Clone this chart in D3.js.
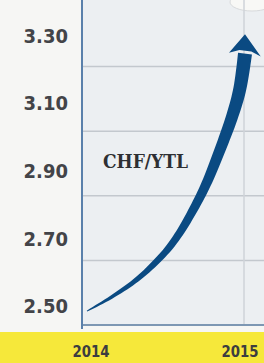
<!DOCTYPE html>
<html>
<head>
<meta charset="utf-8">
<script src="https://cdnjs.cloudflare.com/ajax/libs/d3/7.8.5/d3.min.js"></script>
<style>
  html, body { margin: 0; padding: 0; background: #f6f6f4; }
  svg { display: block; }
</style>
</head>
<body>
<script>
// data
var months = [0, 2, 4, 6, 7, 8, 9, 10, 11, 11.6, 12];
var rate = [2.443, 2.490, 2.548, 2.628, 2.683, 2.752, 2.832, 2.932, 3.043, 3.130, 3.240];
var arrowTip = 3.30;
var yearLabels = ["2014", "2015"];
var yearMonths = [0, 12];
var tickValues = [2.50, 2.70, 2.90, 3.10, 3.30];
var tickLabels = ["2.50", "2.70", "2.90", "3.10", "3.30"];
var gridValues = [2.60, 2.80, 3.00, 3.20];
var seriesName = "CHF/YTL";

var width = 264, height = 363;

var svg = d3.select("body").append("svg")
    .attr("width", width)
    .attr("height", height);

// scales
var x = d3.scaleLinear().domain([0, 12]).range([87, 245]);
var y = d3.scaleLinear().domain([2.40, 3.40]).range([325, 2]);
// the printed tick labels drift a little from the grid, so they get their own scale
var yLab = d3.scaleLinear().domain([2.50, 3.30]).range([306, 35.5]);

// plot background
svg.append("rect")
    .attr("x", 82).attr("y", 0)
    .attr("width", width - 82).attr("height", y(2.40))
    .attr("fill", "#eceff2");

// bright blob top right
svg.append("ellipse")
    .attr("cx", 252).attr("cy", 2)
    .attr("rx", 22).attr("ry", 9)
    .attr("fill", "#f8f8f6")
    .attr("stroke", "#d8dadc");

// yellow strip
svg.append("rect")
    .attr("x", 0).attr("y", 332)
    .attr("width", width).attr("height", height - 332)
    .attr("fill", "#f6e83a");

// gridlines
svg.selectAll(".grid")
    .data(gridValues)
    .enter().append("line")
    .attr("class", "grid")
    .attr("x1", 82).attr("x2", width)
    .attr("y1", function(d) { return y(d); })
    .attr("y2", function(d) { return y(d); })
    .attr("stroke", "#c3c8ce")
    .attr("stroke-width", 1.5);

svg.append("line")
    .attr("x1", x(12) - 1).attr("x2", x(12) - 1)
    .attr("y1", 0).attr("y2", y(2.40))
    .attr("stroke", "#cfd3d8")
    .attr("stroke-width", 1.5);

// axes lines
svg.append("line")
    .attr("x1", 82).attr("x2", width)
    .attr("y1", y(2.40)).attr("y2", y(2.40))
    .attr("stroke", "#7d97b3")
    .attr("stroke-width", 2);

svg.append("line")
    .attr("x1", 82).attr("x2", 82)
    .attr("y1", 0).attr("y2", 329)
    .attr("stroke", "#5a80ab")
    .attr("stroke-width", 2);

// y tick labels
svg.selectAll(".ylab")
    .data(tickValues)
    .enter().append("text")
    .attr("class", "ylab")
    .attr("x", 68)
    .attr("y", function(d) { return yLab(d); })
    .attr("dy", "0.36em")
    .attr("text-anchor", "end")
    .style("font-family", "'DejaVu Sans Condensed', 'DejaVu Sans', sans-serif")
    .style("font-stretch", "condensed")
    .style("font-weight", "bold")
    .style("font-size", "20px")
    .style("fill", "#434448")
    .text(function(d, i) { return tickLabels[i]; });

// year labels
svg.selectAll(".xlab")
    .data(yearLabels)
    .enter().append("text")
    .attr("class", "xlab")
    .attr("x", function(d, i) { return x(yearMonths[i]) + (i == 0 ? 4 : -5); })
    .attr("y", 351)
    .attr("dy", "0.36em")
    .attr("text-anchor", "middle")
    .attr("textLength", 37)
    .attr("lengthAdjust", "spacingAndGlyphs")
    .style("font-family", "'DejaVu Sans Condensed', 'DejaVu Sans', sans-serif")
    .style("font-stretch", "condensed")
    .style("font-weight", "bold")
    .style("font-size", "16px")
    .style("fill", "#3c3d40")
    .text(function(d) { return d; });

// series name
svg.append("text")
    .attr("x", 103)
    .attr("y", 162)
    .attr("dy", "0.36em")
    .attr("textLength", 85)
    .attr("lengthAdjust", "spacingAndGlyphs")
    .style("font-family", "'DejaVu Serif', serif")
    .style("font-weight", "bold")
    .style("font-size", "18px")
    .style("fill", "#2e2f33")
    .text(seriesName);

// curve: centre line, then a tapered band around it
var pts = months.map(function(m, i) { return [x(m), y(rate[i])]; });
var line = d3.line().curve(d3.curveCatmullRom.alpha(0.5));

var guide = svg.append("path")
    .attr("d", line(pts))
    .attr("fill", "none")
    .attr("stroke", "none");

var node = guide.node();
var total = node.getTotalLength();
var N = 90;
var left = [], right = [];
for (var i = 0; i <= N; ++i) {
    var t = i / N;
    var p = node.getPointAtLength(t * total);
    var p0 = node.getPointAtLength(Math.max(0, t * total - 1));
    var p1 = node.getPointAtLength(Math.min(total, t * total + 1));
    var dx = p1.x - p0.x, dy = p1.y - p0.y;
    var len = Math.sqrt(dx * dx + dy * dy) || 1;
    var nx = -dy / len, ny = dx / len;
    var w = 0.5 + 6.5 * Math.pow(t, 0.7);
    left.push([p.x + nx * w, p.y + ny * w]);
    right.push([p.x - nx * w, p.y - ny * w]);
}
var band = left.concat(right.reverse());

svg.append("path")
    .attr("d", "M" + band.join("L") + "Z")
    .attr("fill", "#0a4a82");

// arrow head
var end = node.getPointAtLength(total);
var before = node.getPointAtLength(total - 4);
var ux = end.x - before.x, uy = end.y - before.y;
var ul = Math.sqrt(ux * ux + uy * uy);
ux /= ul; uy /= ul;
var hx = -uy, hy = ux;
var tip = [x(12), y(arrowTip)];
var head = [
    tip,
    [end.x + hx * 16 - ux * 1, end.y + hy * 16 - uy * 1],
    [end.x + hx * 6 + ux * 3, end.y + hy * 6 + uy * 3],
    [end.x - hx * 6 + ux * 3, end.y - hy * 6 + uy * 3],
    [end.x - hx * 16 - ux * 1, end.y - hy * 16 - uy * 1]
];
svg.append("path")
    .attr("d", "M" + head.join("L") + "Z")
    .attr("fill", "#0a4a82");
</script>
</body>
</html>
